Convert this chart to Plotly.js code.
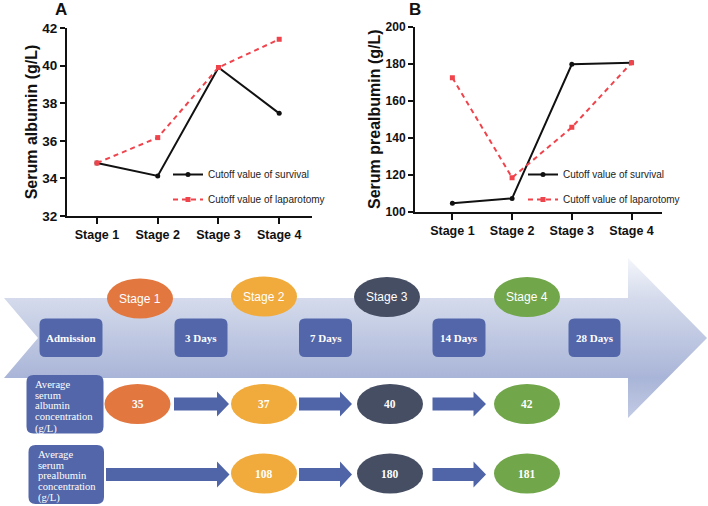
<!DOCTYPE html>
<html>
<head>
<meta charset="utf-8">
<script src="https://cdn.plot.ly/plotly-3.0.1.min.js"></script>
<style>html,body{margin:0;padding:0;background:#fff;}#chart{width:708px;height:506px;}</style>
</head>
<body>
<div id="chart"></div>
<script>
// ---------- data ----------
var stages = ['Stage 1', 'Stage 2', 'Stage 3', 'Stage 4'];
var albuminSurvival = [34.82, 34.13, 39.9, 37.46];
var albuminLaparotomy = [34.82, 36.17, 39.9, 41.4];
var prealbuminSurvival = [104.5, 107.2, 179.7, 180.5];
var prealbuminLaparotomy = [172.4, 118.4, 145.6, 180.5];
var seriesNames = ['Cutoff value of survival', 'Cutoff value of laparotomy'];

var dayLabels = ['Admission', '3 Days', '7 Days', '14 Days', '28 Days'];
var stageLabels = ['Stage 1', 'Stage 2', 'Stage 3', 'Stage 4'];
var avgAlbumin = [35, 37, 40, 42];
var avgPrealbumin = [null, 108, 180, 181];
var rowLabels = [['Average', 'serum', 'albumin', 'concentration', '(g/L)'],
                 ['Average', 'serum', 'prealbumin', 'concentration', '(g/L)']];

// ---------- styles ----------
var W = 708, H = 506;
var black = '#111111', red = '#f0444c';
var stageColors = ['#e27840', '#f0ab3c', '#464e63', '#71a64b'];
var boxColor = '#5266a9';
var arrowColor = '#5064a8';
var legendFont = '"Liberation Sans", Arial, sans-serif';
var arial = 'Arial, "Liberation Sans", sans-serif';
var serif = '"Times New Roman", "Liberation Serif", serif';

function py(p) { return 1 - p / H; }

var traces = [
  {x: stages, y: albuminSurvival, name: seriesNames[0], type: 'scatter', mode: 'lines+markers',
   line: {color: black, width: 2}, marker: {symbol: 'circle', size: 5, color: black},
   xaxis: 'x', yaxis: 'y', legend: 'legend', legendgroup: 'a1', hoverinfo: 'skip'},
  {x: stages, y: albuminLaparotomy, name: seriesNames[1], type: 'scatter', mode: 'lines+markers',
   line: {color: red, width: 2, dash: '5px,4px'}, marker: {symbol: 'square', size: 5, color: red},
   xaxis: 'x', yaxis: 'y', legend: 'legend', legendgroup: 'a2', hoverinfo: 'skip'},
  {x: stages, y: prealbuminSurvival, name: seriesNames[0], type: 'scatter', mode: 'lines+markers',
   line: {color: black, width: 2}, marker: {symbol: 'circle', size: 5, color: black},
   xaxis: 'x2', yaxis: 'y2', legend: 'legend2', legendgroup: 'b1', hoverinfo: 'skip'},
  {x: stages, y: prealbuminLaparotomy, name: seriesNames[1], type: 'scatter', mode: 'lines+markers',
   line: {color: red, width: 2, dash: '5px,4px'}, marker: {symbol: 'square', size: 5, color: red},
   xaxis: 'x2', yaxis: 'y2', legend: 'legend2', legendgroup: 'b2', hoverinfo: 'skip'}
];

// big gradient timeline arrow (schematic, pixel space axis x3/y3)
traces.push({
  x: [4, 628, 628, 707, 628, 628, 4, 38, 4],
  y: [298, 298, 258, 338, 418, 378, 378, 338, 298],
  type: 'scatter', mode: 'lines', fill: 'toself',
  line: {width: 0, color: 'rgba(0,0,0,0)'},
  fillgradient: {type: 'vertical', start: 258, stop: 418,
    colorscale: [[0, '#f4f6fb'], [0.25, '#d5dbec'], [0.75, '#a9b5d8'], [1, '#c2cbe4']]},
  xaxis: 'x3', yaxis: 'y3', showlegend: false, hoverinfo: 'skip'
});

function roundRect(x0, y0, x1, y1, r) {
  return 'M' + (x0 + r) + ',' + y0 + ' L' + (x1 - r) + ',' + y0 + ' Q' + x1 + ',' + y0 + ' ' + x1 + ',' + (y0 + r) +
    ' L' + x1 + ',' + (y1 - r) + ' Q' + x1 + ',' + y1 + ' ' + (x1 - r) + ',' + y1 +
    ' L' + (x0 + r) + ',' + y1 + ' Q' + x0 + ',' + y1 + ' ' + x0 + ',' + (y1 - r) +
    ' L' + x0 + ',' + (y0 + r) + ' Q' + x0 + ',' + y0 + ' ' + (x0 + r) + ',' + y0 + ' Z';
}
function blockArrow(x0, x1, headBase, yc, bodyHalf, headHalf) {
  return 'M' + x0 + ',' + (yc - bodyHalf) + ' L' + headBase + ',' + (yc - bodyHalf) + ' L' + headBase + ',' + (yc - headHalf) +
    ' L' + x1 + ',' + yc + ' L' + headBase + ',' + (yc + headHalf) + ' L' + headBase + ',' + (yc + bodyHalf) +
    ' L' + x0 + ',' + (yc + bodyHalf) + ' Z';
}

var shapes = [];
var annotations = [];
function ann(x, y, text, font, extra) {
  var a = {xref: 'x3', yref: 'y3', x: x, y: y, text: text, showarrow: false, font: font,
           xanchor: 'center', yanchor: 'middle'};
  if (extra) for (var k in extra) a[k] = extra[k];
  annotations.push(a);
}

// day boxes
var dayBoxX = [[39.5, 102.5], [174.5, 227.5], [299, 352], [432.5, 485.5], [568.5, 620.5]];
dayLabels.forEach(function (lab, i) {
  var b = dayBoxX[i];
  shapes.push({type: 'path', xref: 'x3', yref: 'y3', path: roundRect(b[0], 318.5, b[1], 357, 6),
               fillcolor: boxColor, line: {width: 0}});
  ann((b[0] + b[1]) / 2, 338, '<b>' + lab + '</b>', {family: serif, size: 11, color: '#ffffff'});
});

// stage ellipses
var stageCx = [140, 264, 387, 527];
var stageCy = [298.5, 296.5, 297, 297];
stageLabels.forEach(function (lab, i) {
  shapes.push({type: 'circle', xref: 'x3', yref: 'y3', x0: stageCx[i] - 33, x1: stageCx[i] + 33,
               y0: stageCy[i] - 20, y1: stageCy[i] + 20, fillcolor: stageColors[i], line: {width: 0}});
  ann(stageCx[i], stageCy[i], lab, {family: '"Liberation Sans", Arial, sans-serif', size: 12, color: '#ffffff'});
});

// row label boxes
var rowBoxes = [[26.5, 375, 103.5, 433.5], [28.5, 445, 104, 504]];
var rowLineY = [[384.5, 395, 405.5, 416, 428.5], [454.5, 465, 475.5, 486, 498]];
var rowTextX = [33, 36];
rowBoxes.forEach(function (b, r) {
  shapes.push({type: 'path', xref: 'x3', yref: 'y3', path: roundRect(b[0], b[1], b[2], b[3], 7),
               fillcolor: boxColor, line: {width: 0}});
  rowLabels[r].forEach(function (t, k) {
    ann(rowTextX[r], rowLineY[r][k], t, {family: serif, size: 10.6, color: '#ffffff'}, {xanchor: 'left'});
  });
});

// value ellipses and connecting arrows
var valCx = [137.5, 264, 390, 527];
var rowCy = [404, 473.5];
[avgAlbumin, avgPrealbumin].forEach(function (vals, r) {
  vals.forEach(function (v, i) {
    if (v === null) return;
    shapes.push({type: 'circle', xref: 'x3', yref: 'y3', x0: valCx[i] - 33, x1: valCx[i] + 33,
                 y0: rowCy[r] - 20, y1: rowCy[r] + 20, fillcolor: stageColors[i], line: {width: 0}});
    ann(valCx[i], rowCy[r], '<b>' + v + '</b>', {family: serif, size: 11.5, color: '#ffffff'});
  });
});
var arrowsRow1 = [[174, 229, 217], [299, 352, 340], [432.5, 486, 473.5]];
arrowsRow1.forEach(function (a) {
  shapes.push({type: 'path', xref: 'x3', yref: 'y3', path: blockArrow(a[0], a[1], a[2], 404, 6.5, 12.5),
               fillcolor: arrowColor, line: {width: 0}});
});
var arrowsRow2 = [[106, 229.5, 217], [299, 352, 340], [432.5, 486, 473.5]];
arrowsRow2.forEach(function (a) {
  shapes.push({type: 'path', xref: 'x3', yref: 'y3', path: blockArrow(a[0], a[1], a[2], 474.5, 6.5, 13),
               fillcolor: arrowColor, line: {width: 0}});
});

// panel letters
annotations.push({xref: 'paper', yref: 'paper', x: 61 / W, y: py(9), text: '<b>A</b>', showarrow: false,
  font: {family: arial, size: 17, color: '#111'}, xanchor: 'center', yanchor: 'middle'});
annotations.push({xref: 'paper', yref: 'paper', x: 415 / W, y: py(9), text: '<b>B</b>', showarrow: false,
  font: {family: arial, size: 17, color: '#111'}, xanchor: 'center', yanchor: 'middle'});

function yAx(domain, range, dtick, title, anchor, tsize) {
  return {domain: domain, range: range, dtick: dtick, tick0: range[0], anchor: anchor, showgrid: false, zeroline: false,
    showline: true, linecolor: '#111', linewidth: 2, ticks: 'outside', ticklen: 5, tickwidth: 2, tickcolor: '#111',
    tickfont: {family: arial, size: tsize, color: '#111', weight: 'bold'},
    title: {text: title, font: {family: arial, size: 16, color: '#111', weight: 'bold'}, standoff: 1},
    fixedrange: true};
}
function xAx(domain, range, anchor) {
  return {domain: domain, range: range, type: 'category', anchor: anchor, showgrid: false, zeroline: false,
    showline: true, linecolor: '#111', linewidth: 2, ticks: 'outside', ticklen: 6, tickwidth: 2, tickcolor: '#111',
    tickfont: {family: arial, size: 12.5, color: '#111', weight: 'bold'}, fixedrange: true};
}

var layout = {
  width: W, height: H,
  margin: {l: 0, r: 0, t: 0, b: 0},
  paper_bgcolor: '#ffffff', plot_bgcolor: 'rgba(0,0,0,0)',
  xaxis: xAx([67 / W, 312 / W], [-0.494, 3.54], 'y'),
  yaxis: yAx([py(216), py(28)], [32, 42], 2, 'Serum albumin (g/L)', 'x', 13.5),
  xaxis2: xAx([415 / W, 662 / W], [-0.626, 3.51], 'y2'),
  yaxis2: yAx([py(211.7), py(26.7)], [100, 200], 20, 'Serum prealbumin (g/L)', 'x2', 12),
  xaxis3: {domain: [0, 1], range: [0, W], visible: false, anchor: 'y3', fixedrange: true},
  yaxis3: {domain: [0, 1], range: [H, 0], visible: false, anchor: 'x3', fixedrange: true},
  showlegend: true,
  legend: {x: 168 / W, y: py(160), xanchor: 'left', yanchor: 'top', bgcolor: 'rgba(0,0,0,0)',
    font: {family: legendFont, size: 10, color: '#222'}, traceorder: 'grouped', tracegroupgap: 6},
  legend2: {x: 523 / W, y: py(160), xanchor: 'left', yanchor: 'top', bgcolor: 'rgba(0,0,0,0)',
    font: {family: legendFont, size: 10, color: '#222'}, traceorder: 'grouped', tracegroupgap: 6},
  shapes: shapes,
  annotations: annotations
};

Plotly.newPlot('chart', traces, layout, {displayModeBar: false, staticPlot: true});
</script>
</body>
</html>
